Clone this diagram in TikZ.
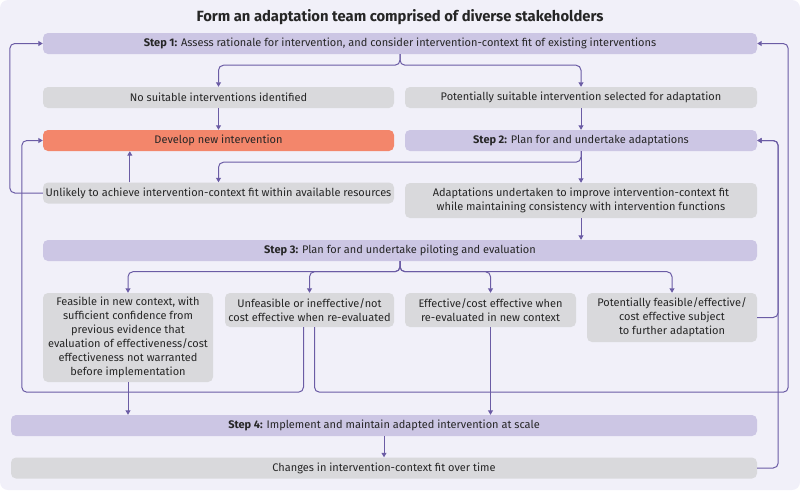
\documentclass[tikz,border=0pt]{standalone}
\usepackage{fontspec}
\setmainfont{Fira Sans}
\usetikzlibrary{arrows.meta}
\definecolor{bgcol}{HTML}{F1F0F9}
\definecolor{stepcol}{HTML}{CCC6E4}
\definecolor{greycol}{HTML}{D9D9DC}
\definecolor{newcol}{HTML}{F3866B}
\definecolor{linecol}{HTML}{6B5CA5}
\begin{document}
\begin{tikzpicture}[x=1pt, y=-1pt,
  box/.style={rounded corners=5pt, inner sep=1pt, align=center, font=\fontsize{11}{14}\selectfont, text=black!85},
  stepbox/.style={box, fill=stepcol},
  greybox/.style={box, fill=greycol},
  newbox/.style={box, fill=newcol},
  arr/.style={draw=linecol, line width=1pt, rounded corners=5pt, -{Triangle[width=5pt,length=4.5pt]}},
  link/.style={draw=linecol, line width=1pt, rounded corners=5pt}]
\useasboundingbox (0,0) rectangle (800,490);
\fill[bgcol, rounded corners=8pt] (0,0) rectangle (800,490);
\node[font=\fontsize{14.8}{17}\selectfont\bfseries, text=black!85] (title) at (400,17) {Form an adaptation team comprised of diverse stakeholders};
% step 1 and its outcomes
\node[stepbox, minimum width=714pt, minimum height=21pt] (s1) at (400,43.5) {\textbf{Step 1:} Assess rationale for intervention, and consider intervention-context fit of existing interventions};
\node[greybox, minimum width=351pt, minimum height=21pt] (nosuit) at (218.5,97.5) {No suitable interventions identified};
\node[greybox, minimum width=352pt, minimum height=21pt] (potsuit) at (581,97.5) {Potentially suitable intervention selected for adaptation};
\node[newbox, minimum width=351pt, minimum height=21pt] (devnew) at (218.5,140.5) {Develop new intervention};
% step 2
\node[stepbox, minimum width=352pt, minimum height=21pt] (s2) at (581,140.5) {\textbf{Step 2:} Plan for and undertake adaptations};
\node[greybox, minimum width=351pt, minimum height=21pt] (unlikely) at (218.5,193) {Unlikely to achieve intervention-context fit within available resources};
\node[greybox, minimum width=352pt, minimum height=35pt] (adapt) at (581,200.5) {Adaptations undertaken to improve intervention-context fit\\while maintaining consistency with intervention functions};
% step 3 and its outcomes
\node[stepbox, minimum width=714pt, minimum height=21pt] (s3) at (400,250.5) {\textbf{Step 3:} Plan for and undertake piloting and evaluation};
\node[greybox, minimum width=170pt, minimum height=89pt] (feas) at (128,337.5) {Feasible in new context, with\\sufficient confidence from\\previous evidence that\\evaluation of effectiveness/cost\\effectiveness not warranted\\before implementation};
\node[greybox, minimum width=169pt, minimum height=34pt] (unfeas) at (309.5,310) {Unfeasible or ineffective/not\\cost effective when re-evaluated};
\node[greybox, minimum width=171pt, minimum height=34pt] (eff) at (490.5,310) {Effective/cost effective when\\re-evaluated in new context};
\node[greybox, minimum width=170pt, minimum height=49pt] (potfeas) at (672,317.5) {Potentially feasible/effective/\\cost effective subject\\to further adaptation};
% step 4
\node[stepbox, minimum width=746pt, minimum height=21pt] (s4) at (384,425.5) {\textbf{Step 4:} Implement and maintain adapted intervention at scale};
\node[greybox, minimum width=746pt, minimum height=21pt] (changes) at (384,468) {Changes in intervention-context fit over time};
% connectors
\draw[arr] (s1.south) -- ++(0,11) -| (nosuit.north);
\draw[arr] (s1.south) -- ++(0,11) -| (potsuit.north);
\draw[arr] (nosuit) -- (devnew);
\draw[arr] (potsuit) -- (s2);
\draw[arr] (s2.south) -- ++(0,11) -| (unlikely.north);
\draw[arr] (s2) -- (adapt);
\draw[arr] ([xshift=87pt]unlikely.north west) -- ([xshift=87pt]devnew.south west);
\draw[arr] (unlikely.west) -- ++(-33,0) |- (s1.west);
\draw[arr] (adapt.south) -- (adapt.south |- s3.north);
\draw[arr] (s3.south) -- ++(0,10.5) -| (feas.north);
\draw[arr] (s3.south) -- ++(0,10.5) -| (unfeas.north);
\draw[arr] (s3.south) -- ++(0,10.5) -| (eff.north);
\draw[arr] (s3.south) -- ++(0,10.5) -| (potfeas.north);
\draw[arr] (feas.south) -- (feas.south |- s4.north);
\draw[arr] (eff.south) -- (eff.south |- s4.north);
\draw[arr] ([xshift=-6pt]unfeas.south) -- ++(0,65) -| ([xshift=-21pt]devnew.west) -- (devnew.west);
\draw[arr] ([xshift=5pt]unfeas.south) -- ++(0,65) -| ([xshift=31pt]s1.east) -- (s1.east);
\draw[arr] (potfeas.east) -- ++(21,0) |- (s2.east);
\draw[arr] (changes.east) -- ++(21,0) |- (s2.east);
\draw[arr] (s4) -- (changes);
\end{tikzpicture}
\end{document}
